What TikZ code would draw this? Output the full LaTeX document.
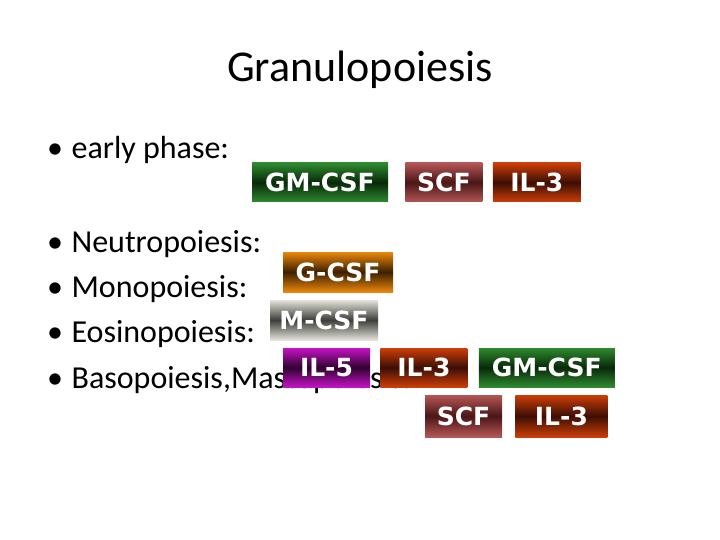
\documentclass[tikz,border=0pt]{standalone}
\usepackage{fontspec}
\setmainfont{Carlito}
\newfontfamily\cytofont{DejaVu Sans}
\usetikzlibrary{positioning}
\definecolor{GreenEdge}{HTML}{2E8A30}
\definecolor{GreenCore}{HTML}{082808}
\definecolor{RoseEdge}{HTML}{B45656}
\definecolor{RoseCore}{HTML}{4A1616}
\definecolor{RustEdge}{HTML}{CC3E08}
\definecolor{RustCore}{HTML}{3C0E04}
\definecolor{OrangeEdge}{HTML}{EC860C}
\definecolor{OrangeCore}{HTML}{3C2000}
\definecolor{GreyEdge}{HTML}{E4E4DC}
\definecolor{GreyCore}{HTML}{3E3E3A}
\definecolor{PlumEdge}{HTML}{C414C4}
\definecolor{PlumCore}{HTML}{300030}
\tikzset{
  heading/.style={anchor=base,inner sep=0pt,font=\fontsize{44}{50}\selectfont},
  item/.style={anchor=base west,inner sep=0pt,font=\fontsize{32}{38}\selectfont},
  cyto/.style={minimum height=39pt,inner sep=0pt,text=white,font=\cytofont\bfseries\fontsize{25}{30}\selectfont},
  gmcsf/.style={cyto,minimum width=136pt,top color=GreenEdge,bottom color=GreenEdge,middle color=GreenCore},
  scf/.style={cyto,minimum width=77pt,top color=RoseEdge,bottom color=RoseEdge,middle color=RoseCore},
  ilthree/.style={cyto,minimum width=88pt,top color=RustEdge,bottom color=RustEdge,middle color=RustCore},
  gcsf/.style={cyto,minimum width=110pt,minimum height=40pt,top color=OrangeEdge,bottom color=OrangeEdge,middle color=OrangeCore},
  mcsf/.style={cyto,minimum width=108pt,minimum height=40pt,top color=GreyEdge,bottom color=GreyEdge,middle color=GreyCore},
  ilfive/.style={cyto,minimum width=87pt,top color=PlumEdge,bottom color=PlumEdge,middle color=PlumCore}
}
\begin{document}
\begin{tikzpicture}[x=1pt,y=-1pt]
  \useasboundingbox[fill=white] (0,0) rectangle (720,540);
  \node[heading] (title) at (360,82) {Granulopoiesis};

  % bullet rows
  \node[item] (early) at (47,159) {\textbullet\hspace{8.5pt}early phase:};
  \node[item] (neutro) at (47,252) {\textbullet\hspace{8.5pt}Neutropoiesis:};
  \node[item] (mono) at (47,297) {\textbullet\hspace{8.5pt}Monopoiesis:};
  \node[item] (eosino) at (47,342) {\textbullet\hspace{8.5pt}Eosinopoiesis:};
  \node[item] (baso) at (47,388) {\textbullet\hspace{8.5pt}Basopoiesis,Mastopoiesis:};

  % early phase
  \node[gmcsf] (gmtop) at (320,182.5) {GM-CSF};
  \node[scf,right=17pt of gmtop] (scftop) {SCF};
  \node[ilthree,right=10pt of scftop] (iltop) {IL-3};

  % lineages
  \node[gcsf] (gcsf) at (338,272) {G-CSF};
  \node[mcsf] (mcsf) at (324,320) {M-CSF};
  \node[ilfive] (ilfive) at (326.5,367.5) {IL-5};
  \node[ilthree,minimum width=87pt,right=10pt of ilfive] (ilbaso) {IL-3};
  \node[gmcsf,right=11pt of ilbaso] (gmbaso) {GM-CSF};
  \node[scf,minimum height=42pt] (scfbaso) at (463.5,416) {SCF};
  \node[ilthree,minimum width=92pt,minimum height=42pt,right=13pt of scfbaso] (ilmast) {IL-3};
\end{tikzpicture}
\end{document}
